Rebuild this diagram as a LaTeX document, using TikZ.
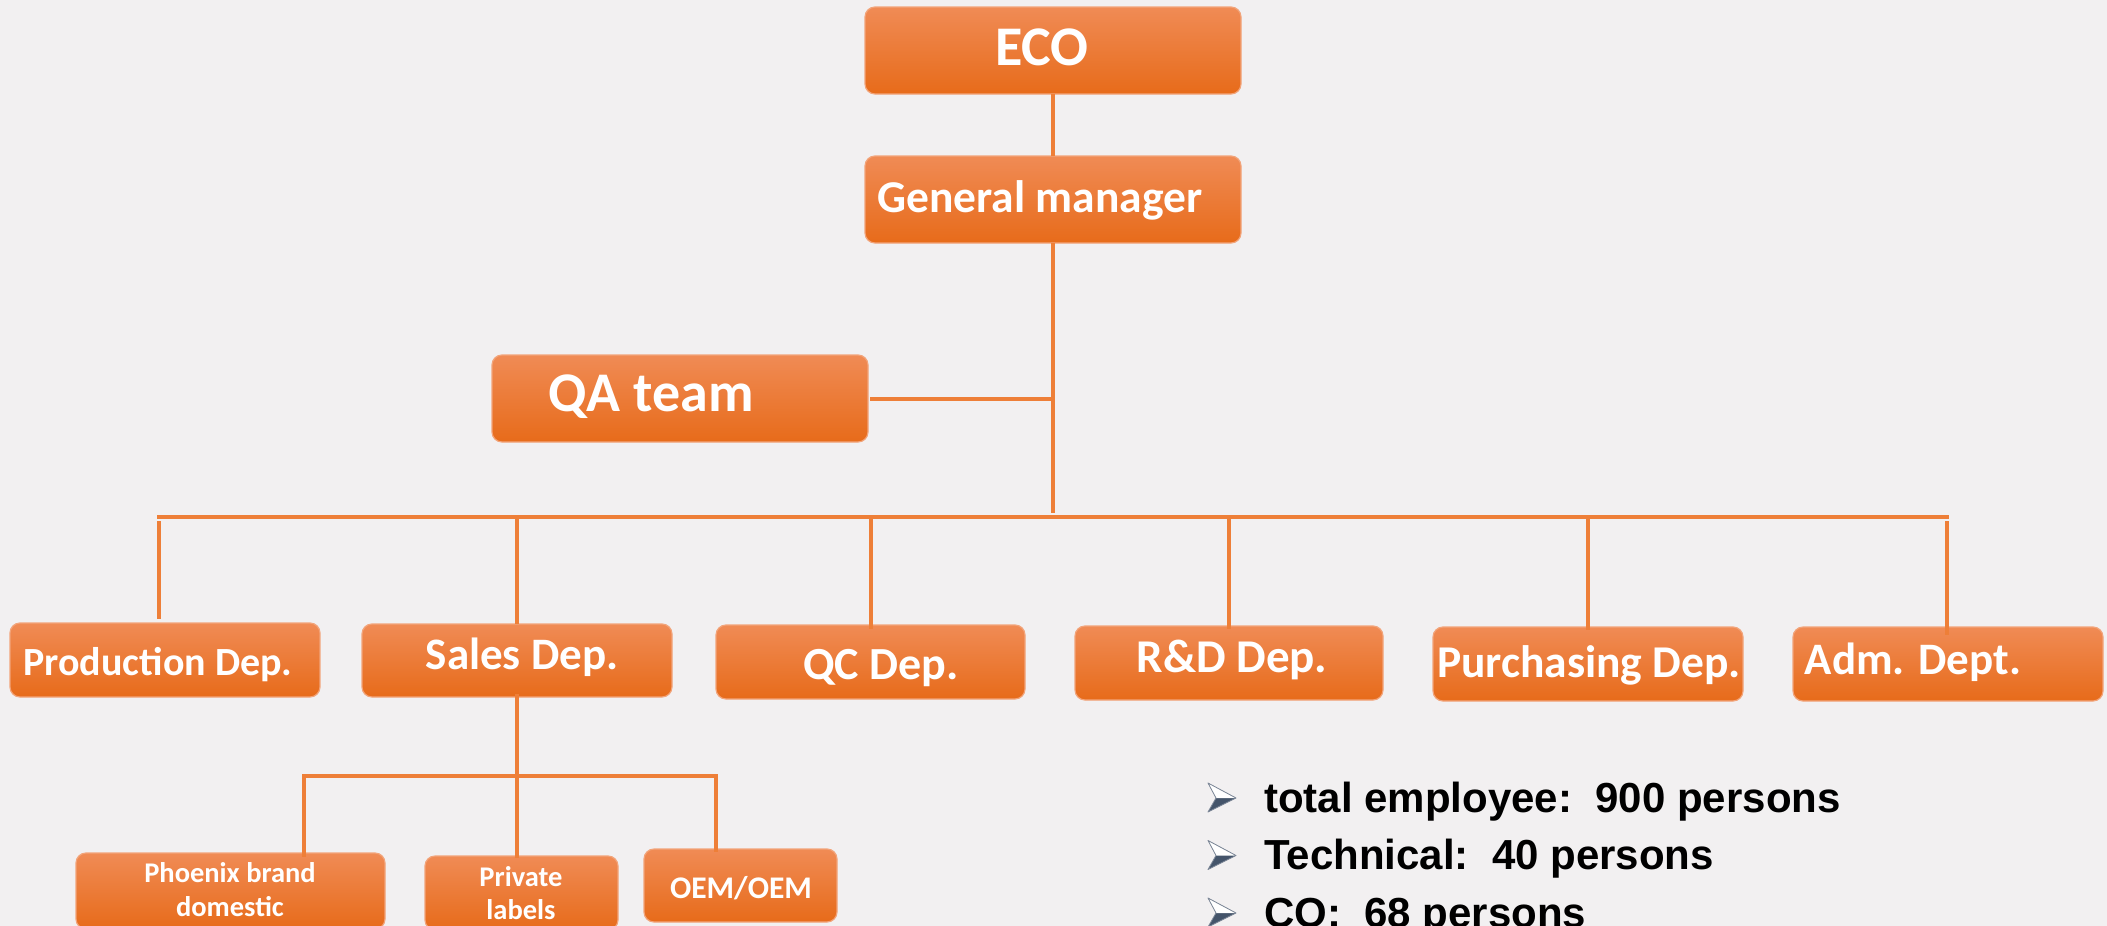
\documentclass[tikz,border=0pt]{standalone}
\usepackage{fontspec}
\setmainfont{Carlito}
\newfontfamily\bulletfont{Liberation Sans}
\definecolor{bg}{HTML}{F2F0F1}
\definecolor{linec}{HTML}{EE7F38}
\definecolor{boxtop}{HTML}{F08B55}
\definecolor{boxmid}{HTML}{F47D2E}
\definecolor{boxbot}{HTML}{E76B1A}
\definecolor{boxedge}{HTML}{F2A47A}
\definecolor{arrowdark}{HTML}{44546A}
\tikzset{
  orgbox/.style={rounded corners=10pt, draw=boxedge, line width=1.2pt,
    top color=boxtop, middle color=boxmid, bottom color=boxbot,
    inner sep=0pt, outer sep=0pt},
  boxtext/.style={text=white, font=\bfseries, inner sep=0pt, align=center},
  conn/.style={draw=linec, line width=4pt},
  bullettext/.style={anchor=base west, inner sep=0pt, font=\bulletfont\bfseries\fontsize{42}{46}\selectfont, text=black},
}
\newcommand{\fs}[1]{\fontsize{#1}{#1}\selectfont}
\begin{document}
\begin{tikzpicture}[x=1pt,y=-1pt]
\fill[bg] (0,0) rectangle (2107,926);
\useasboundingbox (0,0) rectangle (2107,926);

% boxes
\node[orgbox, minimum width=376pt, minimum height=87pt] (eco) at (1053,50.5) {};
\node[boxtext, font=\bfseries\fs{56}] (ecoT) at (1042,47) {ECO};
\node[orgbox, minimum width=376pt, minimum height=87pt] (gm) at (1053,199.5) {};
\node[boxtext, font=\bfseries\fs{45.5}] (gmT) at (1040,200) {General manager};
\node[orgbox, minimum width=376pt, minimum height=87pt] (qa) at (680,398.5) {};
\node[boxtext, font=\bfseries\fs{56}] (qaT) at (651,397) {QA team};

\node[orgbox, minimum width=310pt, minimum height=74pt] (prod) at (165,660) {};
\node[boxtext, font=\bfseries\fs{40}] (prodT) at (158,665) {Production Dep.};
\node[orgbox, minimum width=310pt, minimum height=73pt] (sales) at (517,660.5) {};
\node[boxtext, font=\bfseries\fs{45}] (salesT) at (522,657) {Sales Dep.};
\node[orgbox, minimum width=309pt, minimum height=74pt] (qc) at (870.5,662) {};
\node[boxtext, font=\bfseries\fs{46}] (qcT) at (881,668) {QC Dep.};
\node[orgbox, minimum width=308pt, minimum height=74pt] (rd) at (1229,663) {};
\node[boxtext, font=\bfseries\fs{47}] (rdT) at (1232,660) {R\&D Dep.};
\node[orgbox, minimum width=310pt, minimum height=74pt] (pur) at (1588,664) {};
\node[boxtext, font=\bfseries\fs{45.5}] (purT) at (1589,665) {Purchasing Dep.};
\node[orgbox, minimum width=310pt, minimum height=74pt] (adm) at (1948,664) {};
\node[boxtext, font=\bfseries\fs{45}] (admT) at (1913,662) {Adm. Dept.};

\node[orgbox, minimum width=309pt, minimum height=76pt] (phx) at (230.5,891) {};
\node[boxtext, font=\bfseries\fs{28.5}] (phxT1) at (230,873) {Phoenix brand};
\node[boxtext, font=\bfseries\fs{28.5}] (phxT2) at (230,907) {domestic};
\node[orgbox, minimum width=193pt, minimum height=74pt] (priv) at (521.5,893) {};
\node[boxtext, font=\bfseries\fs{28.5}] (privT1) at (521,877) {Private};
\node[boxtext, font=\bfseries\fs{28.5}] (privT2) at (521,910) {labels};
\node[orgbox, minimum width=193pt, minimum height=73pt] (oem) at (740.5,885.5) {};
\node[boxtext, font=\bfseries\fs{31.5}] (oemT) at (741,888) {OEM/OEM};

% coordinates of buses
\coordinate (bus) at (1053,517);
\coordinate (busL) at (159,517);
\coordinate (busR) at (1947,517);
\coordinate (sbus) at (517,776);
\coordinate (sbL) at (304,776);
\coordinate (sbR) at (716,776);

% connectors
\draw[conn] (eco.south) -- (gm.north);
\draw[conn] (gm.south) -- ([yshift=4pt]bus);
\draw[conn] (qa.east) ++(2pt,0) -- (qa.east -| bus);
\draw[conn] ([xshift=-2pt]busL) -- ([xshift=2pt]busR);
\draw[conn] ([yshift=-4pt]busL) -- ([yshift=4pt]busL |- prod.north);
\draw[conn] (bus -| sales.north) -- (sales.north);
\draw[conn] (bus -| qc.north) -- ([yshift=-4pt]qc.north);
\draw[conn] (bus -| rd.north) -- ([yshift=-3pt]rd.north);
\draw[conn] (bus -| pur.north) -- ([yshift=-3pt]pur.north);
\draw[conn] ([yshift=-4pt]busR) -- ([yshift=-8pt]busR |- adm.north);

\draw[conn] ([yshift=3pt]sales.south) -- (sbus);
\draw[conn] ([xshift=-2pt]sbL) -- ([xshift=2pt]sbR);
\draw[conn] ([yshift=-2pt]sbL) -- ([yshift=-4pt]sbL |- phx.north);
\draw[conn] ([yshift=5pt]sbus) -- ([yshift=-2pt]sbus |- priv.north);
\draw[conn] ([yshift=-2pt]sbR) -- ([yshift=-3pt]sbR |- oem.north);

% bullet list
\foreach \yy/\txt/\nm in {812/{total employee:\ \ 900 persons}/b1, 869.5/{Technical:\ \ 40 persons}/b2, 927/{CQ:\ \ 68 persons}/b3}{
  \fill[arrowdark] (1208,\yy-29) -- (1236,\yy-14) -- (1208,\yy) -- (1216,\yy-14) -- cycle;
  \fill[white] (1208,\yy-29) -- (1236,\yy-14) -- (1216,\yy-14) -- cycle;
  \draw[arrowdark!70, line width=0.8pt, line join=round] (1208,\yy-29) -- (1236,\yy-14) -- (1208,\yy) -- (1216,\yy-14) -- cycle;
  \node[bullettext] (\nm) at (1264,\yy) {\txt};
}
\end{tikzpicture}
\end{document}
